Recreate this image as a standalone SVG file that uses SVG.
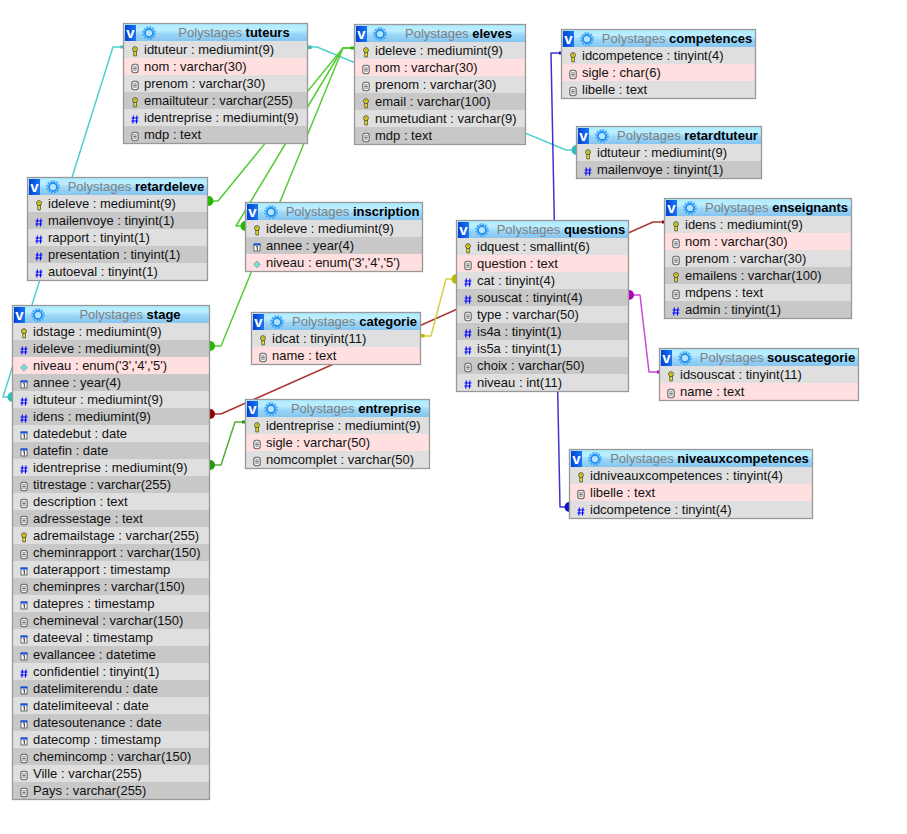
<svg xmlns="http://www.w3.org/2000/svg" width="907" height="834" viewBox="0 0 907 834">
<style>
text{font-family:"Liberation Sans",Arial,sans-serif;font-size:13px;fill:#111}
.l{fill:#dfdfdf}.p{fill:#ffdfdf}.d{fill:#c8c8c8}
.h{fill:url(#hdr)}
.f{fill:none;stroke:#999;stroke-width:1.3}
.b{fill:url(#btn)}
.v{font-weight:bold;fill:#fff;font-size:15px;text-anchor:middle}
.t{text-anchor:middle;fill:#808080}
.t tspan{font-weight:bold;fill:#000}
.c{fill:none;stroke-width:1.5;stroke-linejoin:round}
.cy{stroke:#4fd0cb}.cyf{fill:#2fbdb8}
.gr{stroke:#55cc35}.grf{fill:#25b800}
.dg{stroke:#55ad38}.dgf{fill:#1e9a0a}
.rd{stroke:#ab3535}.rdf{fill:#8e0000}
.ye{stroke:#d4d040}.yef{fill:#bdb800}
.ma{stroke:#c94ad5}.maf{fill:#b000b8}
.bl{stroke:#3a32d8}.blf{fill:#1010c8}
</style>
<defs>
<linearGradient id="hdr" x1="0" y1="0" x2="0" y2="1"><stop offset="0" stop-color="#a9ecff"/><stop offset=".35" stop-color="#bdeeff"/><stop offset=".6" stop-color="#99d6f8"/><stop offset="1" stop-color="#86c5f0"/></linearGradient>
<linearGradient id="btn" x1="0" y1="0" x2="1" y2="0"><stop offset="0" stop-color="#0a3fd0"/><stop offset="1" stop-color="#1478f5"/></linearGradient>
<g id="gear"><circle r="6" fill="none" stroke="#3fa4f5" stroke-width="1.5" stroke-dasharray="2 1.1"/><circle r="4" fill="#b5e2ff" stroke="#1f8ff0" stroke-width="1.8"/></g>
<g id="k"><path d="M-1.200 -.8V4.400H1.400V-.8Z" fill="#f7ec20" stroke="#443" stroke-width=".8"/><circle cy="-2.400" r="2.400" fill="#f7ec20" stroke="#443" stroke-width=".9"/><circle cy="-2.600" r=".7" fill="#443"/></g>
<g id="n"><rect x="-3.200" y="-4.200" width="6.400" height="8.400" rx="2.200" fill="#f4f4f4" stroke="#666" stroke-width="1.100"/><path d="M-1.700 -1.600H1.700M-1.700 0H1.700M-1.700 1.600H1.700" stroke="#555" stroke-width=".8"/></g>
<path id="s" d="M-1.600 -4L-2.200 4M2 -4L1.400 4M-3.400 -1.500H3.400M-3.600 1.500H3.200" fill="none" stroke="#00f" stroke-width="1.100"/>
<g id="a"><rect x="-3" y="-3.500" width="6" height="7" fill="#fff" stroke="#333" stroke-width=".7"/><rect x="-3.400" y="-4" width="6.800" height="2" fill="#1050e0"/><path d="M-.7 -.8L.3 -1.300V2.800" fill="none" stroke="#111" stroke-width=".9"/></g>
<path id="e" d="M0 -3.400L3.400 0L0 3.400L-3.400 0Z" fill="#6fe3e0" stroke="#888" stroke-width=".7"/>
</defs>

<g id="connectors">
<path class="c cy" d="M123 47H113L3 397H12"/>
<path class="c cy" d="M308 47H317L566 150H576"/>
<path class="c gr" d="M354 48H343L218 201H208"/>
<path class="c gr" d="M354 48H343L236 226H245"/>
<path class="c gr" d="M354 48H343L221 346H210"/>
<path class="c dg" d="M210 465H221L235 422H245"/>
<path class="c rd" d="M210 414H221L653 222H664"/>
<path class="c ye" d="M421 336H431L446 279H456"/>
<path class="c ma" d="M629 295H640L649 372H659"/>
<path class="c bl" d="M561 53H551L560 507H569"/>
<rect class="cyf" x="308" y="45.500" width="3.500" height="3.500"/>
<rect class="cyf" x="120.500" y="45.500" width="3" height="3"/>
<circle class="cyf" cx="12.500" cy="397" r="5"/>
<circle class="cyf" cx="576.500" cy="150" r="5"/>
<rect class="grf" x="350.500" y="46.500" width="4" height="3"/>
<circle class="grf" cx="208.500" cy="201" r="5"/>
<circle class="grf" cx="245.500" cy="226" r="5"/>
<circle class="grf" cx="210" cy="346" r="5"/>
<circle class="dgf" cx="210" cy="465" r="5"/>
<rect class="dgf" x="242" y="420.500" width="3.500" height="3"/>
<circle class="rdf" cx="210" cy="414" r="5"/>
<rect class="rdf" x="662" y="220.500" width="2.500" height="3"/>
<rect class="yef" x="421" y="334" width="3.500" height="3.500"/>
<circle class="yef" cx="456.500" cy="279" r="5"/>
<circle class="maf" cx="629" cy="295" r="5"/>
<rect class="maf" x="657" y="370.500" width="2.500" height="3"/>
<rect class="blf" x="559" y="51.500" width="2.500" height="3"/>
<circle class="blf" cx="569.500" cy="507" r="5"/>
</g>

<g id="tuteurs" transform="translate(123,23)">
<rect class="h" x=".5" y=".5" width="184" height="17.500"/><rect class="b" x="2" y="2" width="11" height="16"/><text class="v" x="7.500" y="14.500">v</text><use href="#gear" x="26" y="10"/>
<text class="t" x="111" y="14"><tspan style="font-weight:normal;fill:#808080">Polystages </tspan><tspan>tuteurs</tspan></text>
<rect class="l" x=".5" y="18" width="184" height="17"/><rect class="p" x=".5" y="35" width="184" height="17"/><rect class="l" x=".5" y="52" width="184" height="17"/><rect class="d" x=".5" y="69" width="184" height="17"/><rect class="l" x=".5" y="86" width="184" height="17"/><rect class="d" x=".5" y="103" width="184" height="17"/>
<use href="#k" x="12" y="28.500"/><use href="#n" x="12" y="45.500"/><use href="#n" x="12" y="62.500"/><use href="#k" x="12" y="79.500"/><use href="#s" x="12" y="96.500"/><use href="#n" x="12" y="113.500"/>
<text x="21" y="30.500">idtuteur : mediumint(9)</text><text x="21" y="47.500">nom : varchar(30)</text><text x="21" y="64.500">prenom : varchar(30)</text><text x="21" y="81.500">emailtuteur : varchar(255)</text><text x="21" y="98.500">identreprise : mediumint(9)</text><text x="21" y="115.500">mdp : text</text>
<rect class="f" x=".5" y=".5" width="184" height="120"/>
</g>

<g id="eleves" transform="translate(354,24)">
<rect class="h" x=".5" y=".5" width="171" height="17.500"/><rect class="b" x="2" y="2" width="11" height="16"/><text class="v" x="7.500" y="14.500">v</text><use href="#gear" x="26" y="10"/>
<text class="t" x="104.500" y="14"><tspan style="font-weight:normal;fill:#808080">Polystages </tspan><tspan>eleves</tspan></text>
<rect class="l" x=".5" y="18" width="171" height="17"/><rect class="p" x=".5" y="35" width="171" height="17"/><rect class="l" x=".5" y="52" width="171" height="17"/><rect class="d" x=".5" y="69" width="171" height="17"/><rect class="l" x=".5" y="86" width="171" height="17"/><rect class="d" x=".5" y="103" width="171" height="17"/>
<use href="#k" x="12" y="28.500"/><use href="#n" x="12" y="45.500"/><use href="#n" x="12" y="62.500"/><use href="#k" x="12" y="79.500"/><use href="#k" x="12" y="96.500"/><use href="#n" x="12" y="113.500"/>
<text x="21" y="30.500">ideleve : mediumint(9)</text><text x="21" y="47.500">nom : varchar(30)</text><text x="21" y="64.500">prenom : varchar(30)</text><text x="21" y="81.500">email : varchar(100)</text><text x="21" y="98.500">numetudiant : varchar(9)</text><text x="21" y="115.500">mdp : text</text>
<rect class="f" x=".5" y=".5" width="171" height="120"/>
</g>

<g id="competences" transform="translate(561,29)">
<rect class="h" x=".5" y=".5" width="194" height="17.500"/><rect class="b" x="2" y="2" width="11" height="16"/><text class="v" x="7.500" y="14.500">v</text><use href="#gear" x="26" y="10"/>
<text class="t" x="116" y="14"><tspan style="font-weight:normal;fill:#808080">Polystages </tspan><tspan>competences</tspan></text>
<rect class="l" x=".5" y="18" width="194" height="17"/><rect class="p" x=".5" y="35" width="194" height="17"/><rect class="l" x=".5" y="52" width="194" height="17"/>
<use href="#k" x="12" y="28.500"/><use href="#n" x="12" y="45.500"/><use href="#n" x="12" y="62.500"/>
<text x="21" y="30.500">idcompetence : tinyint(4)</text><text x="21" y="47.500">sigle : char(6)</text><text x="21" y="64.500">libelle : text</text>
<rect class="f" x=".5" y=".5" width="194" height="69"/>
</g>

<g id="retardtuteur" transform="translate(576,126)">
<rect class="h" x=".5" y=".5" width="185" height="17.500"/><rect class="b" x="2" y="2" width="11" height="16"/><text class="v" x="7.500" y="14.500">v</text><use href="#gear" x="26" y="10"/>
<text class="t" x="111.500" y="14"><tspan style="font-weight:normal;fill:#808080">Polystages </tspan><tspan>retardtuteur</tspan></text>
<rect class="l" x=".5" y="18" width="185" height="17"/><rect class="d" x=".5" y="35" width="185" height="17"/>
<use href="#k" x="12" y="28.500"/><use href="#s" x="12" y="45.500"/>
<text x="21" y="30.500">idtuteur : mediumint(9)</text><text x="21" y="47.500">mailenvoye : tinyint(1)</text>
<rect class="f" x=".5" y=".5" width="185" height="52"/>
</g>

<g id="enseignants" transform="translate(664,198)">
<rect class="h" x=".5" y=".5" width="187" height="17.500"/><rect class="b" x="2" y="2" width="11" height="16"/><text class="v" x="7.500" y="14.500">v</text><use href="#gear" x="26" y="10"/>
<text class="t" x="112.500" y="14"><tspan style="font-weight:normal;fill:#808080">Polystages </tspan><tspan>enseignants</tspan></text>
<rect class="l" x=".5" y="18" width="187" height="17"/><rect class="p" x=".5" y="35" width="187" height="17"/><rect class="l" x=".5" y="52" width="187" height="17"/><rect class="d" x=".5" y="69" width="187" height="17"/><rect class="l" x=".5" y="86" width="187" height="17"/><rect class="d" x=".5" y="103" width="187" height="17"/>
<use href="#k" x="12" y="28.500"/><use href="#n" x="12" y="45.500"/><use href="#n" x="12" y="62.500"/><use href="#k" x="12" y="79.500"/><use href="#n" x="12" y="96.500"/><use href="#s" x="12" y="113.500"/>
<text x="21" y="30.500">idens : mediumint(9)</text><text x="21" y="47.500">nom : varchar(30)</text><text x="21" y="64.500">prenom : varchar(30)</text><text x="21" y="81.500">emailens : varchar(100)</text><text x="21" y="98.500">mdpens : text</text><text x="21" y="115.500">admin : tinyint(1)</text>
<rect class="f" x=".5" y=".5" width="187" height="120"/>
</g>

<g id="questions" transform="translate(456,220)">
<rect class="h" x=".5" y=".5" width="172" height="17.500"/><rect class="b" x="2" y="2" width="11" height="16"/><text class="v" x="7.500" y="14.500">v</text><use href="#gear" x="26" y="10"/>
<text class="t" x="105" y="14"><tspan style="font-weight:normal;fill:#808080">Polystages </tspan><tspan>questions</tspan></text>
<rect class="l" x=".5" y="18" width="172" height="17"/><rect class="p" x=".5" y="35" width="172" height="17"/><rect class="l" x=".5" y="52" width="172" height="17"/><rect class="d" x=".5" y="69" width="172" height="17"/><rect class="l" x=".5" y="86" width="172" height="17"/><rect class="d" x=".5" y="103" width="172" height="17"/><rect class="l" x=".5" y="120" width="172" height="17"/><rect class="d" x=".5" y="137" width="172" height="17"/><rect class="l" x=".5" y="154" width="172" height="17"/>
<use href="#k" x="12" y="28.500"/><use href="#n" x="12" y="45.500"/><use href="#s" x="12" y="62.500"/><use href="#s" x="12" y="79.500"/><use href="#n" x="12" y="96.500"/><use href="#s" x="12" y="113.500"/><use href="#s" x="12" y="130.500"/><use href="#n" x="12" y="147.500"/><use href="#s" x="12" y="164.500"/>
<text x="21" y="30.500">idquest : smallint(6)</text><text x="21" y="47.500">question : text</text><text x="21" y="64.500">cat : tinyint(4)</text><text x="21" y="81.500">souscat : tinyint(4)</text><text x="21" y="98.500">type : varchar(50)</text><text x="21" y="115.500">is4a : tinyint(1)</text><text x="21" y="132.500">is5a : tinyint(1)</text><text x="21" y="149.500">choix : varchar(50)</text><text x="21" y="166.500">niveau : int(11)</text>
<rect class="f" x=".5" y=".5" width="172" height="171"/>
</g>

<g id="souscategorie" transform="translate(659,348)">
<rect class="h" x=".5" y=".5" width="199" height="17.500"/><rect class="b" x="2" y="2" width="11" height="16"/><text class="v" x="7.500" y="14.500">v</text><use href="#gear" x="26" y="10"/>
<text class="t" x="118.500" y="14"><tspan style="font-weight:normal;fill:#808080">Polystages </tspan><tspan>souscategorie</tspan></text>
<rect class="l" x=".5" y="18" width="199" height="17"/><rect class="p" x=".5" y="35" width="199" height="17"/>
<use href="#k" x="12" y="28.500"/><use href="#n" x="12" y="45.500"/>
<text x="21" y="30.500">idsouscat : tinyint(11)</text><text x="21" y="47.500">name : text</text>
<rect class="f" x=".5" y=".5" width="199" height="52"/>
</g>

<g id="niveauxcompetences" transform="translate(569,449)">
<rect class="h" x=".5" y=".5" width="243" height="17.500"/><rect class="b" x="2" y="2" width="11" height="16"/><text class="v" x="7.500" y="14.500">v</text><use href="#gear" x="26" y="10"/>
<text class="t" x="140.500" y="14"><tspan style="font-weight:normal;fill:#808080">Polystages </tspan><tspan>niveauxcompetences</tspan></text>
<rect class="l" x=".5" y="18" width="243" height="17"/><rect class="p" x=".5" y="35" width="243" height="17"/><rect class="l" x=".5" y="52" width="243" height="17"/>
<use href="#k" x="12" y="28.500"/><use href="#n" x="12" y="45.500"/><use href="#s" x="12" y="62.500"/>
<text x="21" y="30.500">idniveauxcompetences : tinyint(4)</text><text x="21" y="47.500">libelle : text</text><text x="21" y="64.500">idcompetence : tinyint(4)</text>
<rect class="f" x=".5" y=".5" width="243" height="69"/>
</g>

<g id="retardeleve" transform="translate(27,177)">
<rect class="h" x=".5" y=".5" width="180" height="17.500"/><rect class="b" x="2" y="2" width="11" height="16"/><text class="v" x="7.500" y="14.500">v</text><use href="#gear" x="26" y="10"/>
<text class="t" x="109" y="14"><tspan style="font-weight:normal;fill:#808080">Polystages </tspan><tspan>retardeleve</tspan></text>
<rect class="l" x=".5" y="18" width="180" height="17"/><rect class="d" x=".5" y="35" width="180" height="17"/><rect class="l" x=".5" y="52" width="180" height="17"/><rect class="d" x=".5" y="69" width="180" height="17"/><rect class="l" x=".5" y="86" width="180" height="17"/>
<use href="#k" x="12" y="28.500"/><use href="#s" x="12" y="45.500"/><use href="#s" x="12" y="62.500"/><use href="#s" x="12" y="79.500"/><use href="#s" x="12" y="96.500"/>
<text x="21" y="30.500">ideleve : mediumint(9)</text><text x="21" y="47.500">mailenvoye : tinyint(1)</text><text x="21" y="64.500">rapport : tinyint(1)</text><text x="21" y="81.500">presentation : tinyint(1)</text><text x="21" y="98.500">autoeval : tinyint(1)</text>
<rect class="f" x=".5" y=".5" width="180" height="103"/>
</g>

<g id="inscription" transform="translate(245,202)">
<rect class="h" x=".5" y=".5" width="177" height="17.500"/><rect class="b" x="2" y="2" width="11" height="16"/><text class="v" x="7.500" y="14.500">v</text><use href="#gear" x="26" y="10"/>
<text class="t" x="107.500" y="14"><tspan style="font-weight:normal;fill:#808080">Polystages </tspan><tspan>inscription</tspan></text>
<rect class="l" x=".5" y="18" width="177" height="17"/><rect class="d" x=".5" y="35" width="177" height="17"/><rect class="p" x=".5" y="52" width="177" height="17"/>
<use href="#k" x="12" y="28.500"/><use href="#a" x="12" y="45.500"/><use href="#e" x="12" y="62.500"/>
<text x="21" y="30.500">ideleve : mediumint(9)</text><text x="21" y="47.500">annee : year(4)</text><text x="21" y="64.500">niveau : enum('3','4','5')</text>
<rect class="f" x=".5" y=".5" width="177" height="69"/>
</g>

<g id="stage" transform="translate(12,305)">
<rect class="h" x=".5" y=".5" width="197" height="17.500"/><rect class="b" x="2" y="2" width="11" height="16"/><text class="v" x="7.500" y="14.500">v</text><use href="#gear" x="26" y="10"/>
<text class="t" x="118" y="14"><tspan style="font-weight:normal;fill:#808080">Polystages </tspan><tspan>stage</tspan></text>
<rect class="l" x=".5" y="18" width="197" height="17"/><rect class="d" x=".5" y="35" width="197" height="17"/><rect class="p" x=".5" y="52" width="197" height="17"/><rect class="d" x=".5" y="69" width="197" height="17"/><rect class="l" x=".5" y="86" width="197" height="17"/><rect class="d" x=".5" y="103" width="197" height="17"/><rect class="l" x=".5" y="120" width="197" height="17"/><rect class="d" x=".5" y="137" width="197" height="17"/><rect class="l" x=".5" y="154" width="197" height="17"/><rect class="d" x=".5" y="171" width="197" height="17"/><rect class="l" x=".5" y="188" width="197" height="17"/><rect class="d" x=".5" y="205" width="197" height="17"/><rect class="l" x=".5" y="222" width="197" height="17"/><rect class="d" x=".5" y="239" width="197" height="17"/><rect class="l" x=".5" y="256" width="197" height="17"/><rect class="d" x=".5" y="273" width="197" height="17"/><rect class="l" x=".5" y="290" width="197" height="17"/><rect class="d" x=".5" y="307" width="197" height="17"/><rect class="l" x=".5" y="324" width="197" height="17"/><rect class="d" x=".5" y="341" width="197" height="17"/><rect class="l" x=".5" y="358" width="197" height="17"/><rect class="d" x=".5" y="375" width="197" height="17"/><rect class="l" x=".5" y="392" width="197" height="17"/><rect class="d" x=".5" y="409" width="197" height="17"/><rect class="l" x=".5" y="426" width="197" height="17"/><rect class="d" x=".5" y="443" width="197" height="17"/><rect class="l" x=".5" y="460" width="197" height="17"/><rect class="d" x=".5" y="477" width="197" height="17"/>
<use href="#k" x="12" y="28.500"/><use href="#s" x="12" y="45.500"/><use href="#e" x="12" y="62.500"/><use href="#a" x="12" y="79.500"/><use href="#s" x="12" y="96.500"/><use href="#s" x="12" y="113.500"/><use href="#a" x="12" y="130.500"/><use href="#a" x="12" y="147.500"/><use href="#s" x="12" y="164.500"/><use href="#n" x="12" y="181.500"/><use href="#n" x="12" y="198.500"/><use href="#n" x="12" y="215.500"/><use href="#k" x="12" y="232.500"/><use href="#n" x="12" y="249.500"/><use href="#a" x="12" y="266.500"/><use href="#n" x="12" y="283.500"/><use href="#a" x="12" y="300.500"/><use href="#n" x="12" y="317.500"/><use href="#a" x="12" y="334.500"/><use href="#a" x="12" y="351.500"/><use href="#s" x="12" y="368.500"/><use href="#a" x="12" y="385.500"/><use href="#a" x="12" y="402.500"/><use href="#a" x="12" y="419.500"/><use href="#a" x="12" y="436.500"/><use href="#n" x="12" y="453.500"/><use href="#n" x="12" y="470.500"/><use href="#n" x="12" y="487.500"/>
<text x="21" y="30.500">idstage : mediumint(9)</text><text x="21" y="47.500">ideleve : mediumint(9)</text><text x="21" y="64.500">niveau : enum('3','4','5')</text><text x="21" y="81.500">annee : year(4)</text><text x="21" y="98.500">idtuteur : mediumint(9)</text><text x="21" y="115.500">idens : mediumint(9)</text><text x="21" y="132.500">datedebut : date</text><text x="21" y="149.500">datefin : date</text><text x="21" y="166.500">identreprise : mediumint(9)</text><text x="21" y="183.500">titrestage : varchar(255)</text><text x="21" y="200.500">description : text</text><text x="21" y="217.500">adressestage : text</text><text x="21" y="234.500">adremailstage : varchar(255)</text><text x="21" y="251.500">cheminrapport : varchar(150)</text><text x="21" y="268.500">daterapport : timestamp</text><text x="21" y="285.500">cheminpres : varchar(150)</text><text x="21" y="302.500">datepres : timestamp</text><text x="21" y="319.500">chemineval : varchar(150)</text><text x="21" y="336.500">dateeval : timestamp</text><text x="21" y="353.500">evallancee : datetime</text><text x="21" y="370.500">confidentiel : tinyint(1)</text><text x="21" y="387.500">datelimiterendu : date</text><text x="21" y="404.500">datelimiteeval : date</text><text x="21" y="421.500">datesoutenance : date</text><text x="21" y="438.500">datecomp : timestamp</text><text x="21" y="455.500">chemincomp : varchar(150)</text><text x="21" y="472.500">Ville : varchar(255)</text><text x="21" y="489.500">Pays : varchar(255)</text>
<rect class="f" x=".5" y=".5" width="197" height="494"/>
</g>

<g id="categorie" transform="translate(251,312)">
<rect class="h" x=".5" y=".5" width="169" height="17.500"/><rect class="b" x="2" y="2" width="11" height="16"/><text class="v" x="7.500" y="14.500">v</text><use href="#gear" x="26" y="10"/>
<text class="t" x="103.500" y="14"><tspan style="font-weight:normal;fill:#808080">Polystages </tspan><tspan>categorie</tspan></text>
<rect class="l" x=".5" y="18" width="169" height="17"/><rect class="p" x=".5" y="35" width="169" height="17"/>
<use href="#k" x="12" y="28.500"/><use href="#n" x="12" y="45.500"/>
<text x="21" y="30.500">idcat : tinyint(11)</text><text x="21" y="47.500">name : text</text>
<rect class="f" x=".5" y=".5" width="169" height="52"/>
</g>

<g id="entreprise" transform="translate(245,399)">
<rect class="h" x=".5" y=".5" width="184" height="17.500"/><rect class="b" x="2" y="2" width="11" height="16"/><text class="v" x="7.500" y="14.500">v</text><use href="#gear" x="26" y="10"/>
<text class="t" x="111" y="14"><tspan style="font-weight:normal;fill:#808080">Polystages </tspan><tspan>entreprise</tspan></text>
<rect class="l" x=".5" y="18" width="184" height="17"/><rect class="p" x=".5" y="35" width="184" height="17"/><rect class="l" x=".5" y="52" width="184" height="17"/>
<use href="#k" x="12" y="28.500"/><use href="#n" x="12" y="45.500"/><use href="#n" x="12" y="62.500"/>
<text x="21" y="30.500">identreprise : mediumint(9)</text><text x="21" y="47.500">sigle : varchar(50)</text><text x="21" y="64.500">nomcomplet : varchar(50)</text>
<rect class="f" x=".5" y=".5" width="184" height="69"/>
</g>
</svg>
